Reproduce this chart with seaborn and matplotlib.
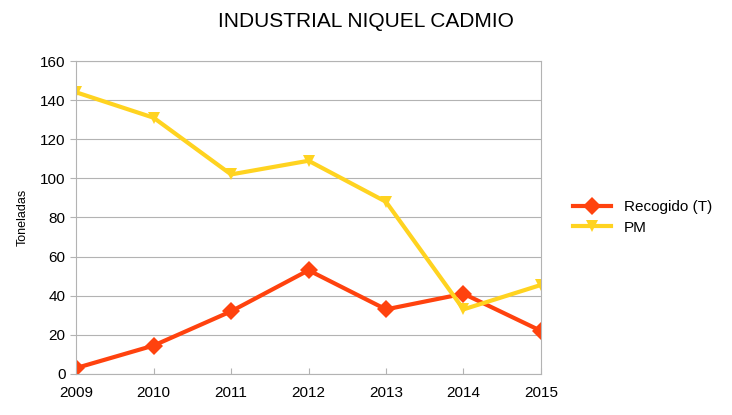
import matplotlib
matplotlib.use("Agg")
import matplotlib.pyplot as plt
import pandas as pd
import seaborn as sns

years = [2009, 2010, 2011, 2012, 2013, 2014, 2015]
recogido = [3, 14.5, 32, 53, 33, 41, 22]
pm = [144, 131, 102, 109, 88, 33, 45.5]

df = pd.DataFrame({"year": years, "Recogido (T)": recogido, "PM": pm})
long = df.melt(id_vars="year", var_name="serie", value_name="t")

plt.rcParams["font.family"] = "Liberation Sans"
fig = plt.figure(figsize=(7.32, 4.15), dpi=100)
ax = fig.add_axes([0.104, 0.099, 0.635, 0.754])

sns.lineplot(data=long, x="year", y="t", hue="serie", style="serie",
             palette={"Recogido (T)": "#ff420e", "PM": "#ffd320"},
             markers={"Recogido (T)": "D", "PM": "v"}, dashes=False,
             linewidth=3, markersize=9, markeredgewidth=0, ax=ax)

ax.set_xlim(2009, 2015)
ax.set_ylim(0, 160)
ax.set_yticks(range(0, 161, 20))
ax.set_xticks(years)
ax.grid(axis="y", color="#b3b3b3", linewidth=0.8)
ax.set_axisbelow(True)
for s in ax.spines.values():
    s.set_color("#b3b3b3")
ax.tick_params(colors="#b3b3b3", labelcolor="black", labelsize=11, length=4)
ax.tick_params(axis="x", direction="in", pad=9)
ax.set_xlabel("")
ax.set_ylabel("Toneladas", fontsize=9, labelpad=8)
fig.suptitle("INDUSTRIAL NIQUEL CADMIO", y=0.97, fontsize=15)
ax.legend(loc="center left", bbox_to_anchor=(1.04, 0.5), frameon=False,
          fontsize=11, handlelength=2.5, labelspacing=0.4)

fig.savefig("out.png", dpi=100)
